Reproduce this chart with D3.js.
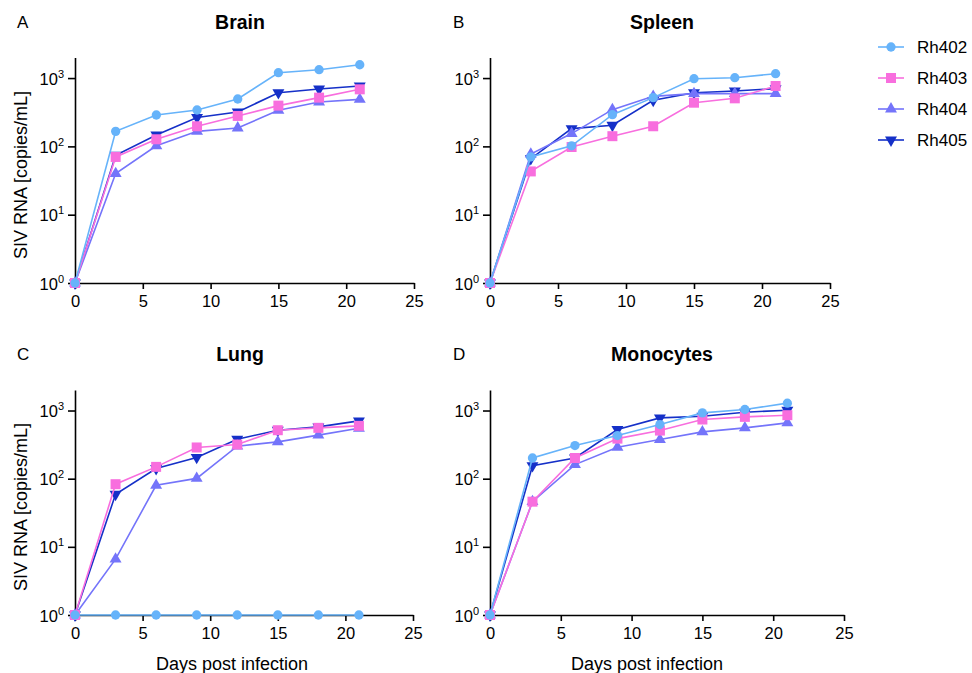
<!DOCTYPE html>
<html>
<head>
<meta charset="utf-8">
<script src="https://cdn.jsdelivr.net/npm/d3@7"></script>
<style>
  body { margin: 0; background: #fff; }
  svg { font-family: "Liberation Sans", Arial, sans-serif; }
</style>
</head>
<body>
<svg width="972" height="673"></svg>
<script>
// days sampled
let days = [0, 3, 6, 9, 12, 15, 18, 21];
let animals = ["Rh402", "Rh403", "Rh404", "Rh405"];
let colors = ["#66b3fa", "#f86ede", "#7474fa", "#1530c8"];
let xTicks = [0, 5, 10, 15, 20, 25];
let yTicks = [1, 10, 100, 1000];

// values per tissue, one row per animal (copies/mL)
let brain = [
  [1, 166, 288, 341, 494, 1198, 1325, 1567],
  [1, 70, 127, 197, 279, 395, 517, 684],
  [1, 40, 102, 166, 186, 337, 446, 488],
  [1, 74, 147, 264, 319, 611, 691, 765]
];
let spleen = [
  [1, 70, 102, 291, 517, 979, 1012, 1158],
  [1, 43, 98, 141, 197, 436, 505, 765],
  [1, 77, 154, 345, 540, 591, 591, 591],
  [1, 66, 182, 204, 472, 611, 646, 700]
];
let lung = [
  [1, 1, 1, 1, 1, 1, 1, 1],
  [1, 83, 149, 287, 317, 514, 557, 596],
  [1, 6.6, 80, 101, 300, 347, 435, 550],
  [1, 59, 141, 205, 380, 514, 576, 705]
];
let monocytes = [
  [1, 201, 306, 429, 622, 924, 1035, 1282],
  [1, 46, 201, 387, 508, 738, 807, 854],
  [1, 46, 161, 289, 375, 486, 556, 659],
  [1, 155, 201, 526, 780, 826, 945, 1011]
];

let svg = d3.select("svg");

let symbols = [
  d3.symbol().type(d3.symbolCircle).size(68),
  d3.symbol().type(d3.symbolSquare).size(100),
  d3.symbol().type(d3.symbolTriangle).size(62),
  d3.symbol().type(d3.symbolTriangle).size(62)
];
let rotations = [0, 0, 0, 180];

let panels = [
  { letter: "A", title: "Brain", data: brain, left: 75, right: 414, bottom: 283, top: 57.5, letterX: 17, titleX: 240, ylab: true, xlab: false },
  { letter: "B", title: "Spleen", data: spleen, left: 490, right: 830, bottom: 283, top: 57.5, letterX: 453, titleX: 662, ylab: false, xlab: false },
  { letter: "C", title: "Lung", data: lung, left: 75, right: 413, bottom: 615, top: 390, letterX: 17, titleX: 240, ylab: true, xlab: true },
  { letter: "D", title: "Monocytes", data: monocytes, left: 490, right: 844, bottom: 615, top: 390, letterX: 453, titleX: 662, ylab: false, xlab: true }
];

let drawPanel = (p) => {
  let x = d3.scaleLinear().domain([0, 25]).range([p.left, p.right]);
  let y = d3.scaleLog().domain([1, 2000]).range([p.bottom, p.top]);
  let g = svg.append("g");

  // axes
  let xAxis = d3.axisBottom(x).tickValues(xTicks).tickSize(6).tickSizeOuter(0).tickPadding(6);
  let gx = g.append("g").attr("transform", "translate(0," + p.bottom + ")").call(xAxis);
  gx.selectAll("text").attr("font-size", 16.5).attr("fill", "#000").attr("font-family", "Liberation Sans, Arial");

  let yAxis = d3.axisLeft(y).tickValues(yTicks).tickSize(7).tickSizeOuter(0).tickFormat("");
  let gy = g.append("g").attr("transform", "translate(" + p.left + ",0)").call(yAxis);
  gy.selectAll(".tick").each(function (d) {
    let t = d3.select(this).append("text")
      .attr("x", -11).attr("y", 6)
      .attr("text-anchor", "end")
      .attr("font-size", 16.5)
      .attr("font-family", "Liberation Sans, Arial")
      .attr("fill", "#000");
    t.append("tspan").text("10");
    t.append("tspan").attr("dy", -7).attr("font-size", 11).text(Math.round(Math.log10(d)));
  });
  g.selectAll(".domain, .tick line").attr("stroke", "#000").attr("stroke-width", 1.6);

  // series, Rh405 drawn first so Rh402 ends on top
  let line = d3.line().x((d, i) => x(days[i])).y((d) => y(d));
  for (let k = animals.length - 1; k >= 0; k--) {
    let vals = p.data[k];
    g.append("path")
      .attr("d", line(vals))
      .attr("fill", "none")
      .attr("stroke", colors[k])
      .attr("stroke-width", 1.6);
    g.selectAll(".m" + k)
      .data(vals)
      .enter()
      .append("path")
      .attr("class", "m" + k)
      .attr("d", symbols[k])
      .attr("fill", colors[k])
      .attr("transform", (d, i) => "translate(" + x(days[i]) + "," + y(d) + ") rotate(" + rotations[k] + ")");
  }

  // titles
  svg.append("text")
    .attr("x", p.letterX).attr("y", p.bottom - 255)
    .attr("font-size", 17).text(p.letter);
  svg.append("text")
    .attr("x", p.titleX).attr("y", p.bottom - 254)
    .attr("text-anchor", "middle")
    .attr("font-size", 19.5).attr("font-weight", "bold")
    .text(p.title);

  if (p.ylab) {
    svg.append("text")
      .attr("transform", "translate(27," + (p.bottom - 108) + ") rotate(-90)")
      .attr("text-anchor", "middle")
      .attr("font-size", 18)
      .text("SIV RNA [copies/mL]");
  }
  if (p.xlab) {
    svg.append("text")
      .attr("x", p.left + 157).attr("y", p.bottom + 55)
      .attr("text-anchor", "middle")
      .attr("font-size", 18)
      .text("Days post infection");
  }
};

panels.forEach(drawPanel);

// legend
let legend = svg.append("g").attr("transform", "translate(878,47)");
animals.forEach((a, k) => {
  let row = legend.append("g").attr("transform", "translate(0," + k * 31 + ")");
  row.append("line").attr("x1", 0).attr("x2", 26).attr("stroke", colors[k]).attr("stroke-width", 1.6);
  row.append("path").attr("d", symbols[k]).attr("fill", colors[k])
    .attr("transform", "translate(13,0) rotate(" + rotations[k] + ")");
  row.append("text").attr("x", 39).attr("y", 6).attr("font-size", 17).text(a);
});
</script>
</body>
</html>
